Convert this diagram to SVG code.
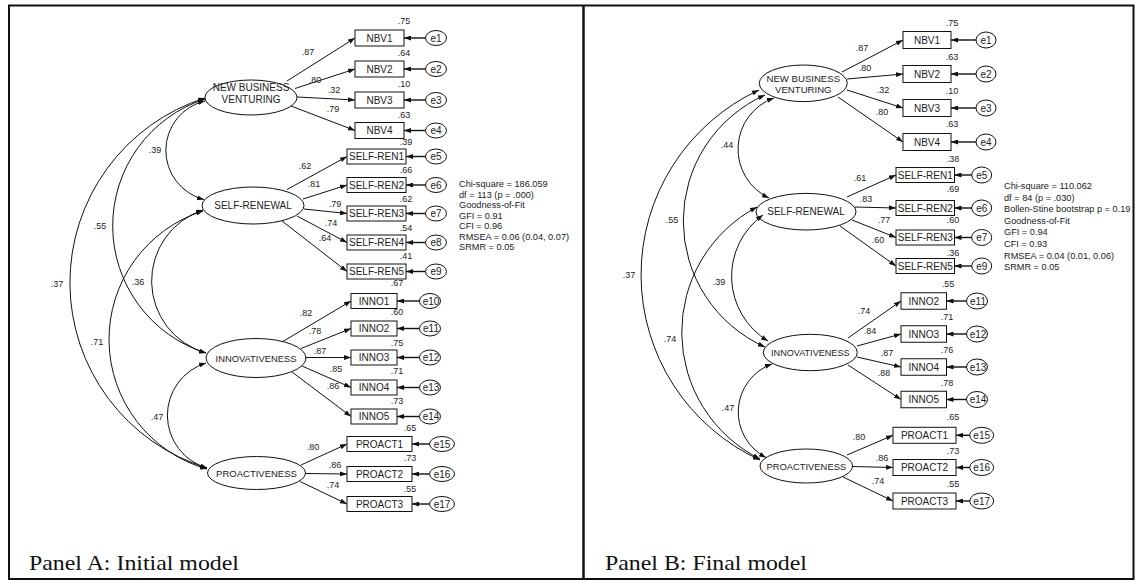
<svg xmlns="http://www.w3.org/2000/svg" width="1137" height="581" viewBox="0 0 1137 581">
<style>
  .frame{fill:none;stroke:#111;stroke-width:2}
  .lat,.obs,.err{fill:#fff;stroke:#111;stroke-width:1}
  .t{font-family:"Liberation Sans",Arial,sans-serif;fill:#222;text-anchor:middle;dominant-baseline:central}
  .tl{font-size:10px}
  .tb{font-size:10px}
  .te{font-size:10px}
  .c{font-size:9px}
  .fit{font-family:"Liberation Sans",Arial,sans-serif;font-size:9.2px;fill:#222;dominant-baseline:central}
  .cap{font-family:"Liberation Serif","Times New Roman",serif;font-size:22px;fill:#111}
  .ld{stroke:#111;stroke-width:1;fill:none;marker-end:url(#ah)}
  .cov{stroke:#111;stroke-width:1;fill:none;marker-start:url(#ah);marker-end:url(#ah)}
  .er{stroke:#111;stroke-width:1.4;fill:none;marker-end:url(#ah)}
</style>
<defs>
  <marker id="ah" viewBox="0 0 7 5" refX="7" refY="2.5" markerWidth="7" markerHeight="5" markerUnits="userSpaceOnUse" orient="auto-start-reverse">
    <path d="M0,0 L7,2.5 L0,5 z" fill="#111"/>
  </marker>
</defs>

<!-- outer frame and panel divider -->
<g id="frame">
  <rect class="frame" x="9" y="5.5" width="1124.5" height="573.5"/>
  <line x1="583.5" y1="5.5" x2="583.5" y2="579" stroke="#111" stroke-width="2.5"/>
</g>

<!-- ===== Panel A: latent factors ===== -->
<g id="A-NBV"><ellipse class="lat" cx="251" cy="97.5" rx="46" ry="17.5"/><text class="t tl" x="251" y="87.5">NEW BUSINESS</text><text class="t tl" x="251" y="99">VENTURING</text></g>
<g id="A-SR"><ellipse class="lat" cx="253" cy="205.5" rx="51" ry="18.5"/><text class="t tl" x="253" y="205.5">SELF-RENEWAL</text></g>
<g id="A-INNO"><ellipse class="lat" cx="256" cy="358" rx="50" ry="19.5"/><text class="t tl" x="256" y="358" style="font-size:9.4px">INNOVATIVENESS</text></g>
<g id="A-PRO"><ellipse class="lat" cx="256.5" cy="473" rx="49" ry="16.5"/><text class="t tl" x="256.5" y="473" style="font-size:9.5px">PROACTIVENESS</text></g>

<!-- Panel A: indicators -->
<g id="A-NBV1"><rect class="obs" x="355" y="30" width="49" height="16"/><text class="t tb" x="379.5" y="38">NBV1</text></g>
<g id="A-NBV2"><rect class="obs" x="355" y="61" width="49" height="16"/><text class="t tb" x="379.5" y="69">NBV2</text></g>
<g id="A-NBV3"><rect class="obs" x="355" y="92" width="49" height="16"/><text class="t tb" x="379.5" y="100">NBV3</text></g>
<g id="A-NBV4"><rect class="obs" x="355" y="122.5" width="49" height="16"/><text class="t tb" x="379.5" y="130.5">NBV4</text></g>
<g id="A-SR1"><rect class="obs" x="347" y="149" width="59" height="15"/><text class="t tb" x="376.5" y="156.5">SELF-REN1</text></g>
<g id="A-SR2"><rect class="obs" x="347" y="177.5" width="59" height="15"/><text class="t tb" x="376.5" y="185">SELF-REN2</text></g>
<g id="A-SR3"><rect class="obs" x="347" y="206" width="59" height="15"/><text class="t tb" x="376.5" y="213.5">SELF-REN3</text></g>
<g id="A-SR4"><rect class="obs" x="347" y="235" width="59" height="15"/><text class="t tb" x="376.5" y="242.5">SELF-REN4</text></g>
<g id="A-SR5"><rect class="obs" x="347" y="264" width="59" height="15"/><text class="t tb" x="376.5" y="271.5">SELF-REN5</text></g>
<g id="A-INNO1"><rect class="obs" x="351" y="293.5" width="46" height="15"/><text class="t tb" x="374" y="301">INNO1</text></g>
<g id="A-INNO2"><rect class="obs" x="351" y="321" width="46" height="15"/><text class="t tb" x="374" y="328.5">INNO2</text></g>
<g id="A-INNO3"><rect class="obs" x="351" y="350" width="46" height="15"/><text class="t tb" x="374" y="357.5">INNO3</text></g>
<g id="A-INNO4"><rect class="obs" x="351" y="380" width="46" height="15"/><text class="t tb" x="374" y="387.5">INNO4</text></g>
<g id="A-INNO5"><rect class="obs" x="351" y="409" width="46" height="15"/><text class="t tb" x="374" y="416.5">INNO5</text></g>
<g id="A-PR1"><rect class="obs" x="347" y="436.5" width="65" height="15"/><text class="t tb" x="379.5" y="444">PROACT1</text></g>
<g id="A-PR2"><rect class="obs" x="347" y="466.5" width="65" height="15"/><text class="t tb" x="379.5" y="474">PROACT2</text></g>
<g id="A-PR3"><rect class="obs" x="347" y="496.5" width="65" height="15"/><text class="t tb" x="379.5" y="504">PROACT3</text></g>

<!-- Panel A: error terms -->
<g id="A-e1"><ellipse class="err" cx="436" cy="38" rx="10.5" ry="7.5"/><text class="t te" x="436" y="38">e1</text></g>
<g id="A-e2"><ellipse class="err" cx="436" cy="69" rx="10.5" ry="7.5"/><text class="t te" x="436" y="69">e2</text></g>
<g id="A-e3"><ellipse class="err" cx="436" cy="100" rx="10.5" ry="7.5"/><text class="t te" x="436" y="100">e3</text></g>
<g id="A-e4"><ellipse class="err" cx="436" cy="130.5" rx="10.5" ry="7.5"/><text class="t te" x="436" y="130.5">e4</text></g>
<g id="A-e5"><ellipse class="err" cx="436" cy="156.5" rx="10.5" ry="7.5"/><text class="t te" x="436" y="156.5">e5</text></g>
<g id="A-e6"><ellipse class="err" cx="436" cy="185" rx="10.5" ry="7.5"/><text class="t te" x="436" y="185">e6</text></g>
<g id="A-e7"><ellipse class="err" cx="436" cy="213.5" rx="10.5" ry="7.5"/><text class="t te" x="436" y="213.5">e7</text></g>
<g id="A-e8"><ellipse class="err" cx="436" cy="242.5" rx="10.5" ry="7.5"/><text class="t te" x="436" y="242.5">e8</text></g>
<g id="A-e9"><ellipse class="err" cx="436" cy="271.5" rx="10.5" ry="7.5"/><text class="t te" x="436" y="271.5">e9</text></g>
<g id="A-e10"><ellipse class="err" cx="430" cy="301" rx="10.5" ry="7.5"/><text class="t te" x="431" y="301">e10</text></g>
<g id="A-e11"><ellipse class="err" cx="430" cy="328.5" rx="10.5" ry="7.5"/><text class="t te" x="431" y="328.5">e11</text></g>
<g id="A-e12"><ellipse class="err" cx="430" cy="357.5" rx="10.5" ry="7.5"/><text class="t te" x="431" y="357.5">e12</text></g>
<g id="A-e13"><ellipse class="err" cx="430" cy="387.5" rx="10.5" ry="7.5"/><text class="t te" x="431" y="387.5">e13</text></g>
<g id="A-e14"><ellipse class="err" cx="430" cy="416.5" rx="10.5" ry="7.5"/><text class="t te" x="431" y="416.5">e14</text></g>
<g id="A-e15"><ellipse class="err" cx="442" cy="444" rx="12.5" ry="7.5"/><text class="t te" x="442" y="444">e15</text></g>
<g id="A-e16"><ellipse class="err" cx="442" cy="474" rx="12.5" ry="7.5"/><text class="t te" x="442" y="474">e16</text></g>
<g id="A-e17"><ellipse class="err" cx="442" cy="504" rx="12.5" ry="7.5"/><text class="t te" x="442" y="504">e17</text></g>

<!-- ===== Panel B: latent factors ===== -->
<g id="B-NBV"><ellipse class="lat" cx="803.3" cy="83.3" rx="44" ry="18.3"/><text class="t tl" x="803.3" y="78.3" style="font-size:9.6px">NEW BUSINESS</text><text class="t tl" x="803.3" y="89.3" style="font-size:9.6px">VENTURING</text></g>
<g id="B-SR"><ellipse class="lat" cx="806" cy="211.7" rx="50" ry="18.3"/><text class="t tl" x="806" y="211.7">SELF-RENEWAL</text></g>
<g id="B-INNO"><ellipse class="lat" cx="810.3" cy="352.5" rx="47" ry="18.2"/><text class="t tl" x="810.3" y="352.5" style="font-size:9.1px">INNOVATIVENESS</text></g>
<g id="B-PRO"><ellipse class="lat" cx="806.3" cy="466" rx="46.3" ry="17"/><text class="t tl" x="806.3" y="466" style="font-size:9.4px">PROACTIVENESS</text></g>

<!-- Panel B: indicators -->
<g id="B-NBV1"><rect class="obs" x="903" y="31.5" width="48" height="17"/><text class="t tb" x="927" y="40">NBV1</text></g>
<g id="B-NBV2"><rect class="obs" x="903" y="65.5" width="48" height="17"/><text class="t tb" x="927" y="74">NBV2</text></g>
<g id="B-NBV3"><rect class="obs" x="903" y="99.5" width="48" height="17"/><text class="t tb" x="927" y="108">NBV3</text></g>
<g id="B-NBV4"><rect class="obs" x="903" y="133.5" width="48" height="17"/><text class="t tb" x="927" y="142">NBV4</text></g>
<g id="B-SR1"><rect class="obs" x="896" y="167.5" width="58.5" height="15"/><text class="t tb" x="925.3" y="175">SELF-REN1</text></g>
<g id="B-SR2"><rect class="obs" x="896" y="200.5" width="58.5" height="15"/><text class="t tb" x="925.3" y="208">SELF-REN2</text></g>
<g id="B-SR3"><rect class="obs" x="896" y="230" width="58.5" height="15"/><text class="t tb" x="925.3" y="237.5">SELF-REN3</text></g>
<g id="B-SR5"><rect class="obs" x="896" y="258.5" width="58.5" height="15"/><text class="t tb" x="925.3" y="266">SELF-REN5</text></g>
<g id="B-INNO2"><rect class="obs" x="901" y="292.75" width="45.5" height="16.5"/><text class="t tb" x="923.8" y="301">INNO2</text></g>
<g id="B-INNO3"><rect class="obs" x="901" y="325.75" width="45.5" height="16.5"/><text class="t tb" x="923.8" y="334">INNO3</text></g>
<g id="B-INNO4"><rect class="obs" x="901" y="358.75" width="45.5" height="16.5"/><text class="t tb" x="923.8" y="367">INNO4</text></g>
<g id="B-INNO5"><rect class="obs" x="901" y="391.25" width="45.5" height="16.5"/><text class="t tb" x="923.8" y="399.5">INNO5</text></g>
<g id="B-PR1"><rect class="obs" x="893" y="427.3" width="63" height="16"/><text class="t tb" x="924.5" y="435.3">PROACT1</text></g>
<g id="B-PR2"><rect class="obs" x="893" y="459.5" width="63" height="16"/><text class="t tb" x="924.5" y="467.5">PROACT2</text></g>
<g id="B-PR3"><rect class="obs" x="893" y="493" width="63" height="16"/><text class="t tb" x="924.5" y="501">PROACT3</text></g>

<!-- Panel B: error terms -->
<g id="B-e1"><ellipse class="err" cx="986" cy="40" rx="10" ry="8"/><text class="t te" x="986" y="40">e1</text></g>
<g id="B-e2"><ellipse class="err" cx="986" cy="74" rx="10" ry="8"/><text class="t te" x="986" y="74">e2</text></g>
<g id="B-e3"><ellipse class="err" cx="986" cy="108" rx="10" ry="8"/><text class="t te" x="986" y="108">e3</text></g>
<g id="B-e4"><ellipse class="err" cx="986" cy="142" rx="10" ry="8"/><text class="t te" x="986" y="142">e4</text></g>
<g id="B-e5"><ellipse class="err" cx="981.7" cy="175" rx="10" ry="8"/><text class="t te" x="981.7" y="175">e5</text></g>
<g id="B-e6"><ellipse class="err" cx="981.7" cy="208" rx="10" ry="8"/><text class="t te" x="981.7" y="208">e6</text></g>
<g id="B-e7"><ellipse class="err" cx="981.7" cy="237.5" rx="10" ry="8"/><text class="t te" x="981.7" y="237.5">e7</text></g>
<g id="B-e9"><ellipse class="err" cx="981.7" cy="266" rx="10" ry="8"/><text class="t te" x="981.7" y="266">e9</text></g>
<g id="B-e11"><ellipse class="err" cx="977" cy="301" rx="10.5" ry="8"/><text class="t te" x="978" y="301">e11</text></g>
<g id="B-e12"><ellipse class="err" cx="977" cy="334" rx="10.5" ry="8"/><text class="t te" x="978" y="334">e12</text></g>
<g id="B-e13"><ellipse class="err" cx="977" cy="367" rx="10.5" ry="8"/><text class="t te" x="978" y="367">e13</text></g>
<g id="B-e14"><ellipse class="err" cx="977" cy="399.5" rx="10.5" ry="8"/><text class="t te" x="978" y="399.5">e14</text></g>
<g id="B-e15"><ellipse class="err" cx="981.7" cy="435.3" rx="12" ry="8"/><text class="t te" x="981.7" y="435.3">e15</text></g>
<g id="B-e16"><ellipse class="err" cx="981.7" cy="467.5" rx="12" ry="8"/><text class="t te" x="981.7" y="467.5">e16</text></g>
<g id="B-e17"><ellipse class="err" cx="981.7" cy="501" rx="12" ry="8"/><text class="t te" x="981.7" y="501">e17</text></g>

<!-- ===== connectors ===== -->
<g id="connectors">
  <!-- Panel A loadings -->
  <path class="ld" d="M287,81 L355,38"/>
  <path class="ld" d="M295,88.5 L355,69"/>
  <path class="ld" d="M297,97 L355,100"/>
  <path class="ld" d="M291,106 L355,130.5"/>
  <path class="ld" d="M287,189.5 L347,156.5"/>
  <path class="ld" d="M303,199 L347,185"/>
  <path class="ld" d="M304,209 L347,213.5"/>
  <path class="ld" d="M297,216 L347,242.5"/>
  <path class="ld" d="M282,221 L347,271.5"/>
  <path class="ld" d="M282,342 L351,301"/>
  <path class="ld" d="M301,348.5 L351,328.5"/>
  <path class="ld" d="M306,357.5 L351,357.5"/>
  <path class="ld" d="M302,366 L351,387.5"/>
  <path class="ld" d="M292,372 L351,416.5"/>
  <path class="ld" d="M301,465 L347,444"/>
  <path class="ld" d="M306,473.5 L347,474"/>
  <path class="ld" d="M300,481.5 L347,504"/>
  <!-- Panel A error paths -->
  <path class="er" d="M425.5,38 L404,38"/>
  <path class="er" d="M425.5,69 L404,69"/>
  <path class="er" d="M425.5,100 L404,100"/>
  <path class="er" d="M425.5,130.5 L404,130.5"/>
  <path class="er" d="M425.5,156.5 L406,156.5"/>
  <path class="er" d="M425.5,185 L406,185"/>
  <path class="er" d="M425.5,213.5 L406,213.5"/>
  <path class="er" d="M425.5,242.5 L406,242.5"/>
  <path class="er" d="M425.5,271.5 L406,271.5"/>
  <path class="er" d="M419.5,301 L397,301"/>
  <path class="er" d="M419.5,328.5 L397,328.5"/>
  <path class="er" d="M419.5,357.5 L397,357.5"/>
  <path class="er" d="M419.5,387.5 L397,387.5"/>
  <path class="er" d="M419.5,416.5 L397,416.5"/>
  <path class="er" d="M429.5,444 L412,444"/>
  <path class="er" d="M429.5,474 L412,474"/>
  <path class="er" d="M429.5,504 L412,504"/>
  <!-- Panel A covariances -->
  <path class="cov" d="M205,101 A50.7,50.7 0 0 0 204,199.5"/>
  <path class="cov" d="M205,99 A133.3,133.3 0 0 0 206,353"/>
  <path class="cov" d="M205,98 A193.8,193.8 0 0 0 207,468"/>
  <path class="cov" d="M203,210 A74.8,74.8 0 0 0 206,353"/>
  <path class="cov" d="M203,211 A134.7,134.7 0 0 0 207,469"/>
  <path class="cov" d="M206,363 A54.8,54.8 0 0 0 207,468"/>

  <!-- Panel B loadings -->
  <path class="ld" d="M842,72 L903,40"/>
  <path class="ld" d="M847,79 L903,74"/>
  <path class="ld" d="M847,90 L903,108"/>
  <path class="ld" d="M838,97 L903,142"/>
  <path class="ld" d="M847,197 L896,175"/>
  <path class="ld" d="M855,207 L896,208"/>
  <path class="ld" d="M852,220 L896,237.5"/>
  <path class="ld" d="M840,226 L896,266"/>
  <path class="ld" d="M848,338 L901,301"/>
  <path class="ld" d="M857,346 L901,334"/>
  <path class="ld" d="M857,357 L901,367"/>
  <path class="ld" d="M848,365 L901,399.5"/>
  <path class="ld" d="M847,455 L893,435.3"/>
  <path class="ld" d="M853,466.5 L893,467.5"/>
  <path class="ld" d="M843,477 L893,501"/>
  <!-- Panel B error paths -->
  <path class="er" d="M976,40 L951,40"/>
  <path class="er" d="M976,74 L951,74"/>
  <path class="er" d="M976,108 L951,108"/>
  <path class="er" d="M976,142 L951,142"/>
  <path class="er" d="M971.7,175 L954.5,175"/>
  <path class="er" d="M971.7,208 L954.5,208"/>
  <path class="er" d="M971.7,237.5 L954.5,237.5"/>
  <path class="er" d="M971.7,266 L954.5,266"/>
  <path class="er" d="M966.5,301 L946.5,301"/>
  <path class="er" d="M966.5,334 L946.5,334"/>
  <path class="er" d="M966.5,367 L946.5,367"/>
  <path class="er" d="M966.5,399.5 L946.5,399.5"/>
  <path class="er" d="M969.7,435.3 L956,435.3"/>
  <path class="er" d="M969.7,467.5 L956,467.5"/>
  <path class="er" d="M969.7,501 L956,501"/>
  <!-- Panel B covariances -->
  <path class="cov" d="M774,98 A54.2,54.2 0 0 0 769,198"/>
  <path class="cov" d="M765,95 A138,138 0 0 0 765,347"/>
  <path class="cov" d="M759,90 A203.7,203.7 0 0 0 760,460"/>
  <path class="cov" d="M763,215 A75.6,75.6 0 0 0 768,341"/>
  <path class="cov" d="M757,207 A141.8,141.8 0 0 0 760,459"/>
  <path class="cov" d="M772,364 A51.1,51.1 0 0 0 766,457.5"/>
</g>

<!-- ===== estimates ===== -->
<g id="A-estimates" class="t c">
  <text x="308" y="52">.87</text><text x="315" y="80">.80</text><text x="334" y="90">.32</text><text x="333" y="109">.79</text>
  <text x="305" y="166">.62</text><text x="314" y="184">.81</text><text x="335" y="204">.79</text><text x="331" y="223">.74</text><text x="325" y="238">.64</text>
  <text x="306" y="312.5">.82</text><text x="315" y="331">.78</text><text x="320" y="350.5">.87</text><text x="336" y="369">.85</text><text x="333" y="386">.86</text>
  <text x="313" y="447">.80</text><text x="335" y="465">.86</text><text x="333" y="485">.74</text>
  <text x="404" y="21">.75</text><text x="404" y="53">.64</text><text x="404" y="83.5">.10</text><text x="404" y="115">.63</text>
  <text x="406" y="141.5">.39</text><text x="406" y="170">.66</text><text x="406" y="199">.62</text><text x="406" y="227.5">.54</text><text x="406" y="256">.41</text>
  <text x="397" y="282.5">.67</text><text x="397" y="311.5">.60</text><text x="397" y="342.5">.75</text><text x="397" y="371">.71</text><text x="397" y="401">.73</text>
  <text x="410" y="428">.65</text><text x="410" y="457.5">.73</text><text x="410" y="489">.55</text>
  <text x="155" y="150">.39</text><text x="100" y="226">.55</text><text x="57" y="284">.37</text><text x="138" y="282">.36</text><text x="97" y="342">.71</text><text x="157" y="417">.47</text>
</g>
<g id="B-estimates" class="t c">
  <text x="862" y="48">.87</text><text x="865" y="68">.80</text><text x="883" y="90">.32</text><text x="882" y="112">.80</text>
  <text x="860" y="178">.61</text><text x="866" y="199">.83</text><text x="884" y="220">.77</text><text x="878" y="240">.60</text>
  <text x="864" y="311">.74</text><text x="870" y="331">.84</text><text x="887" y="353">.87</text><text x="884" y="373">.88</text>
  <text x="859" y="437">.80</text><text x="882" y="458">.86</text><text x="878" y="481">.74</text>
  <text x="952" y="23">.75</text><text x="952" y="57">.63</text><text x="952" y="91">.10</text><text x="952" y="124">.63</text>
  <text x="953" y="159">.38</text><text x="953" y="189">.69</text><text x="953" y="220">.60</text><text x="953" y="253">.36</text>
  <text x="948" y="284">.55</text><text x="947" y="317">.71</text><text x="947" y="350">.76</text><text x="947" y="383">.78</text>
  <text x="953" y="417">.65</text><text x="953" y="451">.73</text><text x="953" y="484">.55</text>
  <text x="727" y="145">.44</text><text x="672" y="220">.55</text><text x="629" y="275">.37</text><text x="719" y="282">.39</text><text x="670" y="339">.74</text><text x="728" y="408">.47</text>
</g>

<!-- fit statistics -->
<g id="A-fit" class="fit">
  <text x="459" y="184">Chi-square = 186.059</text>
  <text x="459" y="194.5">df = 113 (p = .000)</text>
  <text x="459" y="205">Goodness-of-Fit</text>
  <text x="459" y="215.5">GFI = 0.91</text>
  <text x="459" y="226">CFI = 0.96</text>
  <text x="459" y="236.5">RMSEA = 0.06 (0.04, 0.07)</text>
  <text x="459" y="247">SRMR = 0.05</text>
</g>
<g id="B-fit" class="fit">
  <text x="1004" y="186">Chi-square = 110.062</text>
  <text x="1004" y="197.6">df = 84 (p = .030)</text>
  <text x="1004" y="209.2">Bollen-Stine bootstrap p = 0.19</text>
  <text x="1004" y="220.8">Goodness-of-Fit</text>
  <text x="1004" y="232.4">GFI = 0.94</text>
  <text x="1004" y="244">CFI = 0.93</text>
  <text x="1004" y="255.6">RMSEA = 0.04 (0.01, 0.06)</text>
  <text x="1004" y="267.2">SRMR = 0.05</text>
</g>

<!-- panel captions -->
<text class="cap" x="29" y="570" textLength="210" lengthAdjust="spacingAndGlyphs">Panel A: Initial model</text>
<text class="cap" x="605" y="569.5" textLength="202" lengthAdjust="spacingAndGlyphs">Panel B: Final model</text>
</svg>
